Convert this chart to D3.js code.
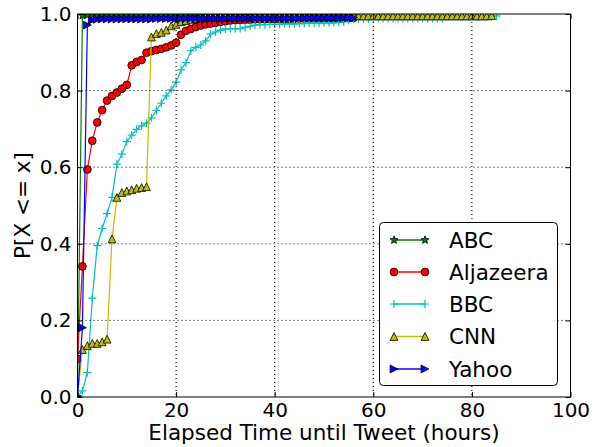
<!DOCTYPE html>
<html><head><meta charset="utf-8">
<script src="https://cdn.jsdelivr.net/npm/d3@7"></script>
<style>
body{margin:0;background:#fff}
svg{display:block}
text{font-family:"DejaVu Sans",sans-serif;fill:#000}
</style>
</head><body><div id="chart"></div>
<script>
// ---- data ----
const hours = [0,1,2,3,4,5,6,7,8,9,10,11,12,13,14,15,16,17,18,19,20,21,22,23,24,25,26,27,28,29,30,
  31,32,33,34,35,36,37,38,39,40,41,42,43,44,45,46,47,48,49,50,51,52,53,54,55,56,57,58,59,60,
  61,62,63,64,65,66,67,68,69,70,71,72,73,74,75,76,77,78,79,80,81,82,83,84,85];
const seriesNames = ["ABC","Aljazeera","BBC","CNN","Yahoo"];
const abcP = [0.0,0.996,
  0.997,0.997,0.997,0.997,0.997,0.997,0.997,0.997,0.997,
  0.997,0.997,0.997,0.997,0.997,0.997,0.997,0.997,0.997,0.997,
  0.998,0.998,0.998,0.998,0.998,0.998,0.998,0.998,0.998,0.998,
  0.998,0.998,0.998,0.998,0.998,0.998,0.998,0.998,0.998,0.998,
  0.999,0.999,0.999,0.999,0.999,0.999,0.999,0.999,0.999,0.999,
  0.999,0.999,0.999,0.999,0.999,1.0];
const aljazeeraP = [0.10,0.341,0.594,0.669,0.717,0.749,0.774,0.786,0.795,0.805,0.815,
  0.866,0.875,0.880,0.899,0.903,0.906,0.909,0.913,0.918,0.925,
  0.946,0.956,0.961,0.966,0.970,0.973,0.975,0.977,0.979,0.981,
  0.983,0.984,0.984,0.985,0.985,0.986,0.986,0.986,0.987,0.987,
  0.987,0.987,0.987,0.988,0.988,0.988,0.988,0.988,0.988,0.988,
  0.989,0.989,0.989,0.989,0.989,0.990];
const bbcP = [0.0,0.016,0.064,0.258,0.395,0.440,0.479,0.521,0.608,0.634,0.667,
  0.684,0.699,0.708,0.715,0.729,0.748,0.767,0.786,0.802,0.822,
  0.854,0.873,0.904,0.913,0.919,0.930,0.948,0.953,0.958,0.961,
  0.962,0.962,0.962,0.965,0.968,0.971,0.972,0.972,0.973,0.973,
  0.973,0.974,0.974,0.974,0.975,0.975,0.976,0.976,0.976,0.977,
  0.977,0.977,0.978,0.980,0.984,0.986,0.986,0.986,0.986,0.986,
  0.988,0.988,0.988,0.988,0.988,0.988,0.988,0.988,0.988,0.988,
  0.988,0.988,0.988,0.988,0.993,0.993,0.993,0.993,0.993,0.993,
  0.993,0.993,0.993,0.993,0.995];
const cnnP = [0.0,0.124,0.134,0.140,0.140,0.144,0.151,0.413,0.521,0.534,0.538,
  0.541,0.545,0.547,0.549,0.940,0.949,0.952,0.958,0.969,0.973,
  0.980,0.983,0.986,0.988,0.990,0.992,0.992,0.992,0.992,0.992,
  0.992,0.992,0.992,0.992,0.992,0.994,0.994,0.994,0.994,0.994,
  0.994,0.994,0.994,0.994,0.994,0.994,0.994,0.994,0.994,0.994,
  0.994,0.994,0.994,0.994,0.994,0.995,0.995,0.995,0.995,0.995,
  0.995,0.995,0.995,0.995,0.995,0.995,0.995,0.995,0.995,0.995,
  0.995,0.995,0.995,0.995,0.995,0.995,0.995,0.995,0.995,0.995,
  0.995,0.995,0.995,0.996];
const yahooP = [0.0,0.181,0.971,0.984,0.986,0.987,0.987,0.987,0.987,0.987,0.987,
  0.987,0.987,0.987,0.987,0.987,0.988,0.988,0.988,0.988,0.988,
  0.988,0.988,0.988,0.988,0.988,0.988,0.988,0.988,0.988,0.988,
  0.989,0.989,0.989,0.989,0.989,0.989,0.989,0.989,0.989,0.989,
  0.989,0.989,0.989,0.989,0.989,0.990,0.990,0.990,0.990,0.990,
  0.990,0.990,0.990,0.990,0.990,0.990];
const xTicks = [0,20,40,60,80,100];
const yTicks = [0.0,0.2,0.4,0.6,0.8,1.0];
const xLabel = "Elapsed Time until Tweet (hours)";
const yLabel = "P[X <= x]";

// ---- styles ----
const seriesValues = [abcP, aljazeeraP, bbcP, cnnP, yahooP];
const colors = ["#008000","#ff0000","#00bfbf","#bfbf00","#0000ff"];
const markers = ["star","circle","plus","triUp","triRight"];

const W = 600, H = 447;
const pLeft = 77.5, pRight = 570.5, pTop = 14, pBottom = 397;
const x = d3.scaleLinear().domain([0,100]).range([pLeft,pRight]);
const y = d3.scaleLinear().domain([0,1]).range([pBottom,pTop]);

const svg = d3.select("#chart").append("svg").attr("width",W).attr("height",H);
svg.append("rect").attr("width",W).attr("height",H).attr("fill","#fff");

svg.append("defs").append("clipPath").attr("id","plotclip")
  .append("rect").attr("x",pLeft).attr("y",pTop).attr("width",pRight-pLeft).attr("height",pBottom-pTop);

function markerPath(type){
  const s = 3.9;
  switch(type){
    case "circle": return d3.symbol(d3.symbolCircle, Math.PI*3.9*3.9)();
    case "triUp": return `M0,${-s}L${s},${s}L${-s},${s}Z`;
    case "triRight": return `M${s},0L${-s},${s}L${-s},${-s}Z`;
    case "plus": return `M-4,0L4,0M0,-4L0,4`;
    case "star": {
      let p = "";
      for (let i=0;i<10;i++){
        const r = i%2===0 ? 4.2 : 1.8;
        const a = -Math.PI/2 + i*Math.PI/5;
        p += (i===0?"M":"L") + (r*Math.cos(a)).toFixed(2) + "," + (r*Math.sin(a)).toFixed(2);
      }
      return p + "Z";
    }
  }
}
function drawMarker(g, type, color, cx, cy){
  const p = g.append("path").attr("d", markerPath(type)).attr("transform",`translate(${cx},${cy})`);
  if (type==="plus") p.attr("fill","none").attr("stroke",color).attr("stroke-width",1.2);
  else p.attr("fill",color).attr("stroke","#000").attr("stroke-width",0.8);
}

// ---- data layer ----
const plot = svg.append("g").attr("clip-path","url(#plotclip)");
const line = d3.line().x(d=>x(d[0])).y(d=>y(d[1]));
seriesValues.forEach((vals,i)=>{
  const pts = vals.map((v,k)=>[hours[k], v]);
  plot.append("path").datum(pts).attr("d",line)
    .attr("fill","none").attr("stroke",colors[i]).attr("stroke-width",1.2);
  const mg = plot.append("g");
  pts.forEach(d=>drawMarker(mg, markers[i], colors[i], x(d[0]), y(d[1])));
});

// ---- grid (classic style: drawn above lines) ----
const grid = svg.append("g");
xTicks.slice(1,-1).forEach(t=>{
  grid.append("line").attr("x1",x(t)).attr("x2",x(t)).attr("y1",pTop).attr("y2",pBottom)
    .attr("stroke","#000").attr("stroke-width",1).attr("stroke-dasharray","1,3");
});
yTicks.slice(1,-1).forEach(t=>{
  grid.append("line").attr("x1",pLeft).attr("x2",pRight).attr("y1",y(t)).attr("y2",y(t))
    .attr("stroke","#000").attr("stroke-width",1).attr("stroke-dasharray","1,3");
});

// ---- axes ----
const fs = 20;
svg.append("g").attr("transform",`translate(0,${pBottom})`)
  .call(d3.axisBottom(x).tickValues(xTicks).tickSizeInner(-5).tickSizeOuter(0).tickPadding(6).tickFormat(d3.format("d")));
svg.append("g").attr("transform",`translate(${pLeft},0)`)
  .call(d3.axisLeft(y).tickValues(yTicks).tickSizeInner(-5).tickSizeOuter(0).tickPadding(6).tickFormat(d3.format(".1f")));
svg.append("g").attr("transform",`translate(0,${pTop})`)
  .call(d3.axisTop(x).tickValues(xTicks).tickSizeInner(-5).tickSizeOuter(0).tickFormat(""));
svg.append("g").attr("transform",`translate(${pRight},0)`)
  .call(d3.axisRight(y).tickValues(yTicks).tickSizeInner(-5).tickSizeOuter(0).tickFormat(""));
svg.selectAll(".domain").remove();
svg.selectAll(".tick line").attr("stroke","#000").attr("stroke-width",1);
svg.selectAll(".tick text").style("font-size",fs+"px").style("font-family","DejaVu Sans");

svg.append("rect").attr("x",pLeft).attr("y",pTop).attr("width",pRight-pLeft).attr("height",pBottom-pTop)
  .attr("fill","none").attr("stroke","#000").attr("stroke-width",1);

// ---- labels ----
svg.append("text").attr("x",(pLeft+pRight)/2).attr("y",440).attr("text-anchor","middle")
  .style("font-size","21.5px").text(xLabel);
svg.append("text").attr("transform",`translate(30,${(pTop+pBottom)/2}) rotate(-90)`)
  .attr("text-anchor","middle").style("font-size","21.5px").text(yLabel);

// ---- legend ----
const lg = svg.append("g");
lg.append("rect").attr("x",379.5).attr("y",222.5).attr("width",178).attr("height",163).attr("rx",4)
  .attr("fill","#fff").attr("stroke","#000").attr("stroke-width",1);
const rowY = [240,272,304,336.5,369];
seriesNames.forEach((name,i)=>{
  lg.append("line").attr("x1",394).attr("x2",425).attr("y1",rowY[i]).attr("y2",rowY[i])
    .attr("stroke",colors[i]).attr("stroke-width",1.5);
  drawMarker(lg, markers[i], colors[i], 394, rowY[i]);
  drawMarker(lg, markers[i], colors[i], 425, rowY[i]);
  lg.append("text").attr("x",449).attr("y",rowY[i]).attr("dy","0.36em")
    .style("font-size","21.5px").text(name);
});
</script>
</body></html>
